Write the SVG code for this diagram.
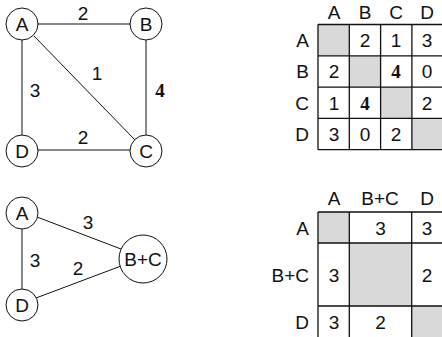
<svg xmlns="http://www.w3.org/2000/svg" width="442" height="337" viewBox="0 0 442 337">
<style>
text{font-family:"Liberation Sans",Arial,sans-serif;font-size:19px;fill:#111;text-anchor:middle}
.b{font-family:"Liberation Serif","Times New Roman",serif;font-weight:bold}
.r{text-anchor:end}
.n{fill:#fff;stroke:#111;stroke-width:1}
.e{stroke:#111;stroke-width:1;fill:none}
.g{fill:#d9d9d9}
.grid{stroke:#111;stroke-width:1.3;fill:none}
</style>
<rect width="442" height="337" fill="#fff"/>
<g id="connectors">
<line class="e" x1="38" y1="24" x2="130" y2="24"/>
<line class="e" x1="22" y1="40" x2="22" y2="135"/>
<line class="e" x1="146" y1="40" x2="146" y2="135"/>
<line class="e" x1="38" y1="150" x2="130" y2="150"/>
<line class="e" x1="34" y1="36" x2="135" y2="140"/>
<line class="e" x1="22" y1="229" x2="22" y2="289"/>
<line class="e" x1="37" y1="217" x2="121" y2="249"/>
<line class="e" x1="36" y1="298" x2="121" y2="266"/>
</g>
<g id="edge-labels">
<text x="83" y="20">2</text>
<text x="97" y="80">1</text>
<text x="35" y="97">3</text>
<text class="b" x="160" y="97">4</text>
<text x="83" y="144">2</text>
<text x="88" y="229">3</text>
<text x="35" y="267">3</text>
<text x="78" y="275">2</text>
</g>
<g id="node-A"><circle class="n" cx="22" cy="24" r="16"/><text x="22" y="31">A</text></g>
<g id="node-B"><circle class="n" cx="146" cy="24" r="16"/><text x="146" y="31">B</text></g>
<g id="node-D"><circle class="n" cx="22" cy="151" r="16"/><text x="22" y="158">D</text></g>
<g id="node-C"><circle class="n" cx="146" cy="151" r="16"/><text x="146" y="158">C</text></g>
<g id="node-A2"><circle class="n" cx="22" cy="213" r="16"/><text x="22" y="220">A</text></g>
<g id="node-D2"><circle class="n" cx="22" cy="305" r="16"/><text x="22" y="312">D</text></g>
<g id="node-BC"><circle class="n" cx="143" cy="259" r="24"/><text x="143" y="266">B+C</text></g>
<g id="matrix1">
<rect class="g" x="318" y="24.5" width="31.3" height="31.3"/>
<rect class="g" x="349.3" y="55.8" width="31.3" height="31.3"/>
<rect class="g" x="380.6" y="87.1" width="31.3" height="31.3"/>
<rect class="g" x="411.9" y="118.4" width="31.3" height="31.3"/>
<path class="grid" d="M318 24.5H443M318 55.8H443M318 87.1H443M318 118.4H443M318 149.7H443M318 24.5V149.7M349.3 24.5V149.7M380.6 24.5V149.7M411.9 24.5V149.7"/>
<text x="334" y="19">A</text><text x="365" y="19">B</text><text x="396" y="19">C</text><text x="427" y="19">D</text>
<text class="r" x="309" y="47">A</text><text class="r" x="309" y="78">B</text><text class="r" x="309" y="110">C</text><text class="r" x="309" y="141">D</text>
<text x="365" y="47">2</text><text x="396" y="47">1</text><text x="427" y="47">3</text>
<text x="334" y="78">2</text><text class="b" x="396" y="78">4</text><text x="427" y="78">0</text>
<text x="334" y="110">1</text><text class="b" x="365" y="110">4</text><text x="427" y="110">2</text>
<text x="334" y="141">3</text><text x="365" y="141">0</text><text x="396" y="141">2</text>
</g>
<g id="matrix2">
<rect class="g" x="318" y="212" width="31.3" height="31"/>
<rect class="g" x="349.3" y="243" width="62.4" height="63"/>
<rect class="g" x="411.7" y="306" width="31.3" height="31"/>
<path class="grid" d="M318 212H443M318 243H443M318 306H443M318 212V337M349.3 212V337M411.7 212V337"/>
<text x="334" y="205">A</text><text x="380" y="205">B+C</text><text x="427" y="205">D</text>
<text class="r" x="309" y="235">A</text><text class="r" x="309" y="282">B+C</text><text class="r" x="309" y="329">D</text>
<text x="380.5" y="235">3</text><text x="427" y="235">3</text>
<text x="334" y="282">3</text><text x="427" y="282">2</text>
<text x="334" y="329">3</text><text x="380.5" y="329">2</text>
</g>
</svg>
